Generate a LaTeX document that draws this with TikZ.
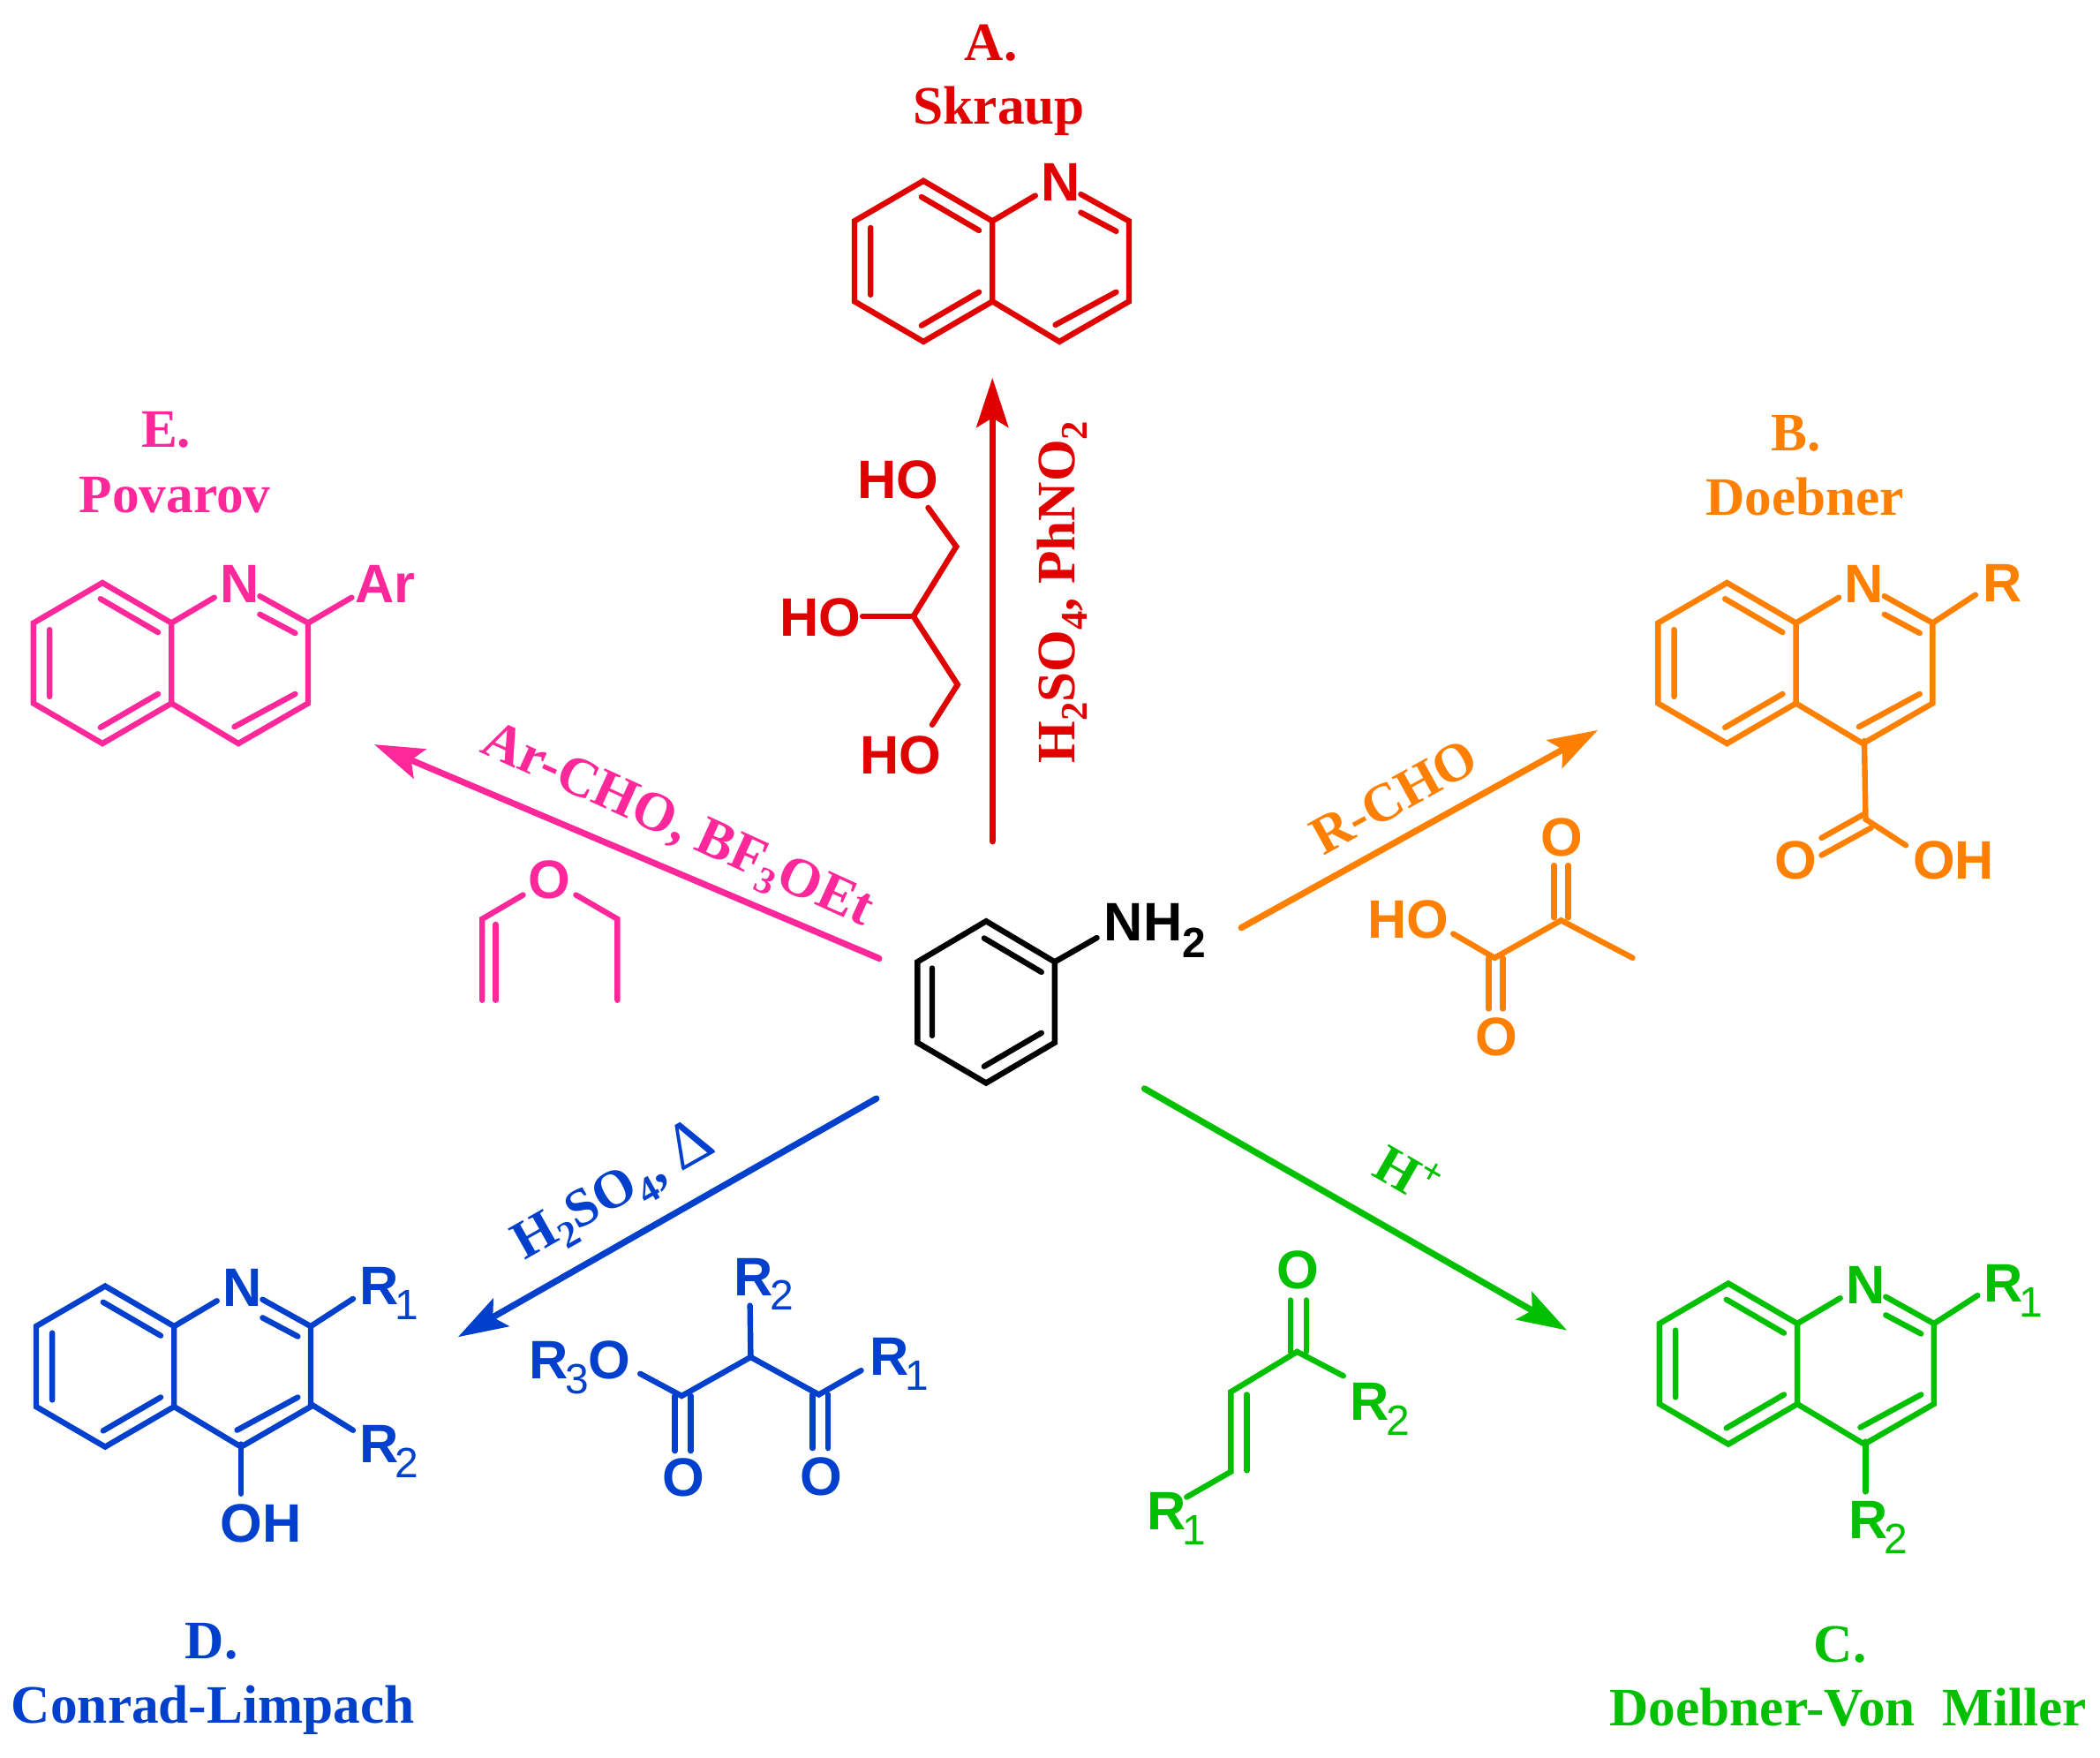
\documentclass[tikz,border=0pt]{standalone}
\usepackage{fontspec}
\setmainfont{Liberation Serif}
\setsansfont{Liberation Sans}
\usetikzlibrary{arrows.meta}
\definecolor{skraupred}{RGB}{225,0,0}
\definecolor{doebnerorange}{RGB}{255,128,0}
\definecolor{millergreen}{RGB}{0,192,0}
\definecolor{conradblue}{RGB}{0,64,204}
\definecolor{povarovpink}{RGB}{255,40,155}
\newcommand{\rsub}[1]{\hspace{-1.5pt}\raisebox{-6.3pt}{\mdseries\fontsize{18}{18}\selectfont #1}}
\newcommand{\csub}[1]{\raisebox{-5pt}{\fontsize{16}{16}\selectfont #1}}
\newcommand{\quinolinering}{%
\draw[bond] (0,0) -- (-51.5,-30) -- (-103,0) -- (-103,60) -- (-51.5,90) -- (0,60) -- cycle;
\draw[bond] (0,60) -- (50,90) -- (102,60) -- (102,0) -- (66,-20);
\draw[bond] (0,0) -- (32,-19);
\draw[bond] (66,-6.4) -- (92.4,7.6) (92.4,53) -- (47,77.5);
\draw[bond] (-53,-18) -- (-10,7) (-53,78) -- (-10,53) (-91,5) -- (-91,55);
}
\tikzset{
bond/.style={line width=2.4pt,line cap=round,line join=miter},
rxn/.style={line width=2.7pt,line cap=round,-{Stealth[length=21pt,width=13.5pt,inset=4pt]}},
atom/.style={inner sep=0pt,anchor=base west,font=\sffamily\bfseries\fontsize{23}{23}\selectfont},
title/.style={inner sep=0pt,anchor=base,font=\bfseries\fontsize{23}{23}\selectfont},
cond/.style={inner sep=0pt,font=\bfseries\fontsize{23}{23}\selectfont}
}
\begin{document}
\begin{tikzpicture}[x=0.02cm,y=-0.02cm]
\useasboundingbox (0,0) rectangle (1568,1312);
% aniline
\draw[bond] (736.3,687.6) -- (787.5,718) -- (787.5,778.3) -- (736.3,808.4) -- (685,778.3) -- (685,718) -- cycle;
\draw[bond] (734.8,700.3) -- (777.6,725.6) (777.6,771) -- (734.8,796) (696,722.7) -- (696,773);
\draw[bond] (787.5,718) -- (819,700);
\node[atom] (aniline) at (824,702.3) {NH\raisebox{-7.2pt}{\fontsize{18}{18}\selectfont 2}};
% A
\begin{scope}[skraupred]
\node[title] (skraupA) at (740,45) {A.};
\node[title] (skraup) at (746,92.6) {Skraup};
\begin{scope}[shift={(741,165)}]
\quinolinering
\node[atom] (skraupN) at (36,-15) {N};
\end{scope}
\node[atom] (glyHOa) at (640,372) {HO};
\node[atom] (glyHOb) at (582,475) {HO};
\node[atom] (glyHOc) at (642,578) {HO};
\draw[bond] (693,379) -- (714,408) -- (682,460) -- (715,511) -- (696,541);
\draw[bond] (644,460) -- (682,460);
\coordinate (skraupS) at (741,628);
\coordinate (skraupT) at (741,282);
\draw[rxn] (skraupS) -- (skraupT);
\node[cond,rotate=90] (skraupC) at (793,442) {H\csub{2}SO\csub{4}, PhNO\csub{2}};
\end{scope}
% B
\begin{scope}[doebnerorange]
\node[title] (doebnerB) at (1341,336.6) {B.};
\node[title] (doebner) at (1347.5,384.5) {Doebner};
\begin{scope}[shift={(1341,465)}]
\quinolinering
\node[atom] (doebnerN) at (36,-15) {N};
\end{scope}
\node[atom] (doebnerR) at (1480,449) {R};
\draw[bond] (1443,465) -- (1475,444);
\draw[bond] (1392,553) -- (1393,611.5) -- (1423,631);
\draw[bond] (1360,625.5) -- (1392,607.6) (1360,638.4) -- (1397,618);
\node[atom] (doebnerO) at (1325,656.4) {O};
\node[atom] (doebnerOH) at (1428,656.4) {OH};
\node[atom] (pyrO) at (1150,639) {O};
\node[atom] (pyrHO) at (1021,700) {HO};
\node[atom] (pyrOb) at (1101,788) {O};
\draw[bond] (1085,697) -- (1116,715) -- (1165.6,687) -- (1219,715);
\draw[bond] (1160.4,646) -- (1160.4,685) (1171,646) -- (1171,685);
\draw[bond] (1111.5,715) -- (1111.5,753) (1122,715) -- (1122,753);
\coordinate (doebnerS) at (926.8,692.5);
\coordinate (doebnerT) at (1193,545);
\draw[rxn] (doebnerS) -- (doebnerT);
\node[cond,rotate=29] (doebnerC) at (1041,595) {R-CHO};
\end{scope}
% C
\begin{scope}[millergreen]
\node[title] (millerC) at (1374,1240.5) {C.};
\node[title] (miller) at (1380,1288) {Doebner-Von\hspace{11.5pt}Miller};
\begin{scope}[shift={(1342,988)}]
\quinolinering
\node[atom] (millerN) at (36,-15) {N};
\end{scope}
\node[atom] (millerRa) at (1481,972) {R\rsub{1}};
\node[atom] (millerRb) at (1380,1148.4) {R\rsub{2}};
\draw[bond] (1444,988) -- (1476.6,967);
\draw[bond] (1393,1076) -- (1393,1113.5);
\node[atom] (enoneO) at (953,962) {O};
\node[atom] (enoneRb) at (1008,1060) {R\rsub{2}};
\node[atom] (enoneRa) at (856,1142) {R\rsub{1}};
\draw[bond] (1003,1027) -- (968.5,1009) -- (919,1039) -- (919,1098.6) -- (886,1117.5);
\draw[bond] (963.5,970.5) -- (963.5,1009) (975.4,970.5) -- (975.4,1009);
\draw[bond] (931,1041) -- (931,1097.6);
\coordinate (millerS) at (854.5,812.6);
\coordinate (millerT) at (1170,993);
\draw[rxn] (millerS) -- (millerT);
\node[cond,rotate=-30] (millerL) at (1052,875) {H\textsuperscript{+}};
\end{scope}
% D
\begin{scope}[conradblue]
\node[title] (conradD) at (158,1238) {D.};
\node[title] (conrad) at (159,1286) {Conrad-Limpach};
\begin{scope}[shift={(130,990)}]
\quinolinering
\node[atom] (conradN) at (36,-15) {N};
\end{scope}
\node[atom] (conradRa) at (268,974) {R\rsub{1}};
\node[atom] (conradRb) at (268,1092) {R\rsub{2}};
\node[atom] (conradOH) at (164,1151) {OH};
\draw[bond] (232,990) -- (263.6,969.5);
\draw[bond] (232,1048) -- (263.6,1067.6);
\draw[bond] (180,1078) -- (180,1115);
\node[atom] (esterRO) at (395,1029) {R\rsub{3}O};
\node[atom] (esterRa) at (649,1026.4) {R\rsub{1}};
\node[atom] (esterRb) at (548,967) {R\rsub{2}};
\node[atom] (esterOa) at (494,1117) {O};
\node[atom] (esterOb) at (597,1116) {O};
\draw[bond] (478,1025.4) -- (509,1042) -- (560.5,1013) -- (611.4,1041) -- (643,1023);
\draw[bond] (560.5,1013) -- (560,974.5);
\draw[bond] (504,1042) -- (504,1083) (515.7,1042) -- (515.7,1083);
\draw[bond] (606.8,1041) -- (606.8,1081) (618.4,1041) -- (618.4,1081);
\coordinate (conradS) at (654.4,820);
\coordinate (conradT) at (342,998);
\draw[rxn] (conradS) -- (conradT);
\node[cond,rotate=29.5] (conradL) at (458,890) {H\csub{2}SO\csub{4}, {\mdseries\fontsize{28}{28}\selectfont Δ}};
\end{scope}
% E
\begin{scope}[povarovpink]
\node[title] (povarovE) at (124,334) {E.};
\node[title] (povarov) at (130.5,382.5) {Povarov};
\begin{scope}[shift={(128,465)}]
\quinolinering
\node[atom] (povarovN) at (36,-15) {N};
\end{scope}
\node[atom] (povarovAr) at (265,449.8) {Ar};
\draw[bond] (230,465) -- (262.6,446);
\node[atom] (etherO) at (394,670.5) {O};
\draw[bond] (390.6,668) -- (360,686) -- (360,746.6);
\draw[bond] (370,690) -- (370,746.6);
\draw[bond] (430,668) -- (461,686) -- (461,746.6);
\coordinate (povarovS) at (656.4,715.4);
\coordinate (povarovT) at (279.4,555.7);
\draw[rxn] (povarovS) -- (povarovT);
\node[cond,rotate=-24.5,font=\bfseries\fontsize{23.5}{24}\selectfont] (povarovL) at (505,618) {Ar-CHO, BF\csub{3}OEt};
\end{scope}
\end{tikzpicture}
\end{document}
